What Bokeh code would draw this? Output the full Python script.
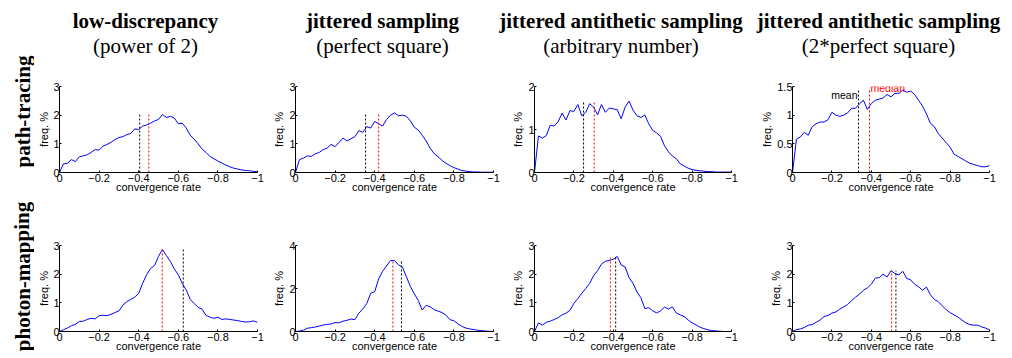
import math
from bokeh.plotting import figure
from bokeh.layouts import row, column
from bokeh.models import Range1d, FixedTicker, CustomJSTickFormatter, Label
from bokeh.core.properties import value
from bokeh.embed import file_html
from bokeh.resources import INLINE

# ---------------- data ----------------
conv_rate = [round(-0.02 * i, 2) for i in range(51)]  # histogram bin positions

col_titles = ["low-discrepancy", "jittered sampling",
              "jittered antithetic sampling", "jittered antithetic sampling"]
col_subtitles = ["(power of 2)", "(perfect square)",
                 "(arbitrary number)", "(2*perfect square)"]
row_labels = ["path-tracing", "photon-mapping"]

pt_low_discrepancy = [
    0.00, 0.30, 0.32, 0.45, 0.38, 0.55, 0.58, 0.62, 0.70, 0.80,
    0.78, 0.92, 0.98, 1.05, 1.15, 1.22, 1.25, 1.32, 1.36, 1.52,
    1.50, 1.62, 1.66, 1.72, 1.80, 1.85, 2.02, 1.92, 1.96, 1.90,
    1.70, 1.72, 1.55, 1.30, 1.17, 1.00, 0.82, 0.70, 0.56, 0.48,
    0.40, 0.33, 0.26, 0.20, 0.15, 0.12, 0.09, 0.07, 0.06, 0.04, 0.02]
pt_jittered = [
    0.00, 0.45, 0.50, 0.58, 0.56, 0.65, 0.70, 0.80, 0.85, 0.98,
    0.90, 1.05, 1.20, 1.10, 1.18, 1.25, 1.46, 1.40, 1.60, 1.55,
    1.78, 1.70, 1.62, 1.85, 2.00, 2.08, 1.98, 2.00, 1.96, 1.80,
    1.58, 1.48, 1.30, 1.10, 0.85, 0.66, 0.55, 0.42, 0.32, 0.24,
    0.17, 0.12, 0.07, 0.05, 0.03, 0.02, 0.02, 0.01, 0.01, 0.01, 0.01]
pt_antithetic_arbitrary = [
    0.00, 0.85, 0.80, 0.86, 1.10, 1.08, 1.18, 1.38, 1.22, 1.44,
    1.42, 1.58, 1.32, 1.40, 1.60, 1.52, 1.34, 1.58, 1.40, 1.50,
    1.48, 1.46, 1.25, 1.52, 1.66, 1.45, 1.32, 1.28, 1.34, 1.13,
    0.98, 0.92, 0.84, 0.62, 0.48, 0.38, 0.32, 0.20, 0.15, 0.10,
    0.07, 0.05, 0.04, 0.03, 0.02, 0.02, 0.01, 0.01, 0.01, 0.01, 0.01]
pt_antithetic_2square = [
    0.00, 0.58, 0.62, 0.70, 0.65, 0.80, 0.85, 0.88, 0.88, 0.92,
    1.05, 1.00, 0.98, 1.00, 1.04, 1.12, 1.12, 1.20, 1.26, 1.10,
    1.20, 1.26, 1.28, 1.30, 1.36, 1.32, 1.38, 1.38, 1.44, 1.40,
    1.42, 1.36, 1.26, 1.16, 1.02, 0.86, 0.80, 0.68, 0.60, 0.52,
    0.44, 0.32, 0.28, 0.24, 0.20, 0.16, 0.14, 0.12, 0.10, 0.10, 0.12]

pm_low_discrepancy = [
    0.00, 0.06, 0.12, 0.20, 0.25, 0.35, 0.36, 0.42, 0.46, 0.44,
    0.55, 0.57, 0.55, 0.60, 0.66, 0.72, 0.92, 1.04, 1.12, 1.20,
    1.33, 1.68, 1.98, 2.20, 2.30, 2.62, 2.86, 2.65, 2.44, 2.18,
    1.98, 1.68, 1.45, 1.12, 0.98, 0.84, 0.78, 0.56, 0.50, 0.46,
    0.50, 0.42, 0.44, 0.42, 0.40, 0.38, 0.35, 0.33, 0.34, 0.37, 0.32]
pm_jittered = [
    0.00, 0.02, 0.06, 0.15, 0.18, 0.21, 0.25, 0.30, 0.33, 0.35,
    0.42, 0.40, 0.48, 0.52, 0.58, 0.55, 0.85, 1.05, 1.30, 1.78,
    1.85, 2.45, 2.80, 3.05, 3.30, 3.30, 3.10, 3.00, 2.55, 2.10,
    1.75, 1.45, 1.00, 1.22, 1.15, 1.02, 0.95, 0.88, 0.76, 0.55,
    0.50, 0.36, 0.24, 0.16, 0.12, 0.09, 0.06, 0.04, 0.02, 0.01, 0.00]
pm_antithetic_arbitrary = [
    0.00, 0.30, 0.22, 0.32, 0.36, 0.42, 0.48, 0.58, 0.64, 0.74,
    0.98, 1.15, 1.33, 1.50, 1.68, 1.95, 2.12, 2.35, 2.45, 2.48,
    2.52, 2.62, 2.32, 2.25, 1.88, 1.68, 1.38, 1.18, 0.80, 0.83,
    0.72, 0.65, 0.72, 0.85, 0.78, 0.86, 0.64, 0.58, 0.52, 0.40,
    0.30, 0.23, 0.15, 0.10, 0.06, 0.03, 0.02, 0.01, 0.00, 0.00, 0.00]
pm_antithetic_2square = [
    0.00, 0.06, 0.09, 0.14, 0.22, 0.24, 0.32, 0.40, 0.52, 0.56,
    0.64, 0.68, 0.78, 0.86, 0.94, 1.08, 1.20, 1.30, 1.44, 1.52,
    1.65, 1.86, 1.88, 2.00, 1.90, 2.12, 2.02, 1.98, 2.10, 1.85,
    1.80, 1.65, 1.56, 1.44, 1.55, 1.28, 1.12, 1.04, 0.90, 0.76,
    0.66, 0.58, 0.50, 0.40, 0.30, 0.24, 0.22, 0.22, 0.16, 0.12, 0.06]

pt_mean = [-0.405, -0.354, -0.249, -0.335]
pt_median = [-0.451, -0.420, -0.303, -0.391]
pm_mean = [-0.625, -0.535, -0.412, -0.525]
pm_median = [-0.519, -0.492, -0.385, -0.503]

pt_yticks = [[0, 1, 2, 3], [0, 1, 2, 3], [0, 1, 2], [0, 0.5, 1, 1.5]]
pm_yticks = [[0, 1, 2, 3], [0, 2, 4], [0, 1, 2, 3], [0, 1, 2, 3]]
x_ticks = [0, -0.2, -0.4, -0.6, -0.8, -1]

x_label = "convergence rate"
y_label = "freq. %"
mean_text = "mean"
median_text = "median"

# ---------------- layout / style ----------------
SANS = "Liberation Sans"
SERIF = "Liberation Serif"
BLUE = "#0000ff"
RED = "#ff0000"

TOTAL_W = 1012
TOTAL_H = 358
LEFT_W = 34
HEADER_H = 68
col_left = [25, 29, 32, 52]
col_frame = [198, 198, 197, 197]
col_right = [9, 9, 9, 23]
col_widths = [l + f + r for l, f, r in zip(col_left, col_frame, col_right)]
col_ylabel_standoff = [0, 1, 1, 1]
row_heights = [132, 158]
row_top = [18, 45]
row_bottom = [28, 27]


def make_panel(ys, mean, median, yticks, ci, ri, annotate=False):
    p = figure(width=col_widths[ci], height=row_heights[ri],
               x_range=Range1d(0, -1), y_range=Range1d(0, yticks[-1]),
               toolbar_location=None, output_backend="svg",
               min_border_left=col_left[ci], min_border_right=col_right[ci],
               min_border_top=row_top[ri], min_border_bottom=row_bottom[ri],
               x_axis_label=x_label, y_axis_label=y_label)
    p.grid.visible = False
    p.outline_line_color = None
    p.background_fill_color = "white"
    p.border_fill_color = "white"
    p.line(conv_rate, ys, line_color=BLUE, line_width=1)
    peak = max(ys)
    p.segment(x0=[mean], y0=[0], x1=[mean], y1=[peak],
              line_color="black", line_dash="2 2", line_width=1)
    p.segment(x0=[median], y0=[0], x1=[median], y1=[peak],
              line_color=RED, line_dash="2 2", line_width=1)
    for ax in (p.xaxis[0], p.yaxis[0]):
        ax.axis_line_color = "black"
        ax.axis_line_width = 1
        ax.major_tick_in = 2
        ax.major_tick_out = 0
        ax.major_tick_line_color = "black"
        ax.minor_tick_line_color = None
        ax.minor_tick_out = 0
        ax.minor_tick_in = 0
        ax.major_label_text_font = SANS
        ax.major_label_text_font_size = "11px"
        ax.major_label_text_color = "black"
        ax.axis_label_text_font = SANS
        ax.axis_label_text_font_size = "11px"
        ax.axis_label_text_font_style = "normal"
        ax.axis_label_text_color = "black"
    xa = p.xaxis[0]
    xa.ticker = FixedTicker(ticks=x_ticks)
    xa.formatter = CustomJSTickFormatter(
        code="return tick == 0 ? '0' : '\u2212' + Math.abs(tick).toString();")
    xa.major_label_standoff = 1
    xa.axis_label_standoff = -4
    ya = p.yaxis[0]
    ya.ticker = FixedTicker(ticks=yticks)
    ya.formatter = CustomJSTickFormatter(code="return tick.toString();")
    ya.major_label_standoff = 0
    ya.axis_label_standoff = col_ylabel_standoff[ci]
    if annotate:
        p.add_layout(Label(x=mean, y=1.36, text=mean_text, text_align="right",
                           text_baseline="alphabetic", x_offset=-1,
                           text_font=SANS, text_font_size="10.5px",
                           text_color="black"))
        p.add_layout(Label(x=median, y=1.47, text=median_text, text_align="left",
                           text_baseline="alphabetic", x_offset=1,
                           text_font=SANS, text_font_size="10.5px",
                           text_color=RED))
    return p


pt_series = [pt_low_discrepancy, pt_jittered, pt_antithetic_arbitrary, pt_antithetic_2square]
pm_series = [pm_low_discrepancy, pm_jittered, pm_antithetic_arbitrary, pm_antithetic_2square]

row1 = [make_panel(pt_series[i], pt_mean[i], pt_median[i], pt_yticks[i], i, 0,
                   annotate=(i == 3)) for i in range(4)]
row2 = [make_panel(pm_series[i], pm_mean[i], pm_median[i], pm_yticks[i], i, 1)
        for i in range(4)]

# header with column titles (x: pixels from the strip's right edge, y: pixels from top)
header_w = sum(col_widths)
header = figure(width=header_w, height=HEADER_H,
                x_range=Range1d(0, header_w), y_range=Range1d(HEADER_H, 0),
                toolbar_location=None, output_backend="svg",
                x_axis_location=None, y_axis_location=None, min_border=0)
header.grid.visible = False
header.outline_line_color = None
title_cx = [111, 348, 586.5, 844]
header.text(x=title_cx, y=[20] * 4, text=col_titles,
            text_font=value(SERIF), text_font_style="bold", text_font_size="21px",
            text_align="center", text_baseline="alphabetic", text_color="black")
header.text(x=title_cx, y=[45] * 4, text=col_subtitles,
            text_font=value(SERIF), text_font_style="normal", text_font_size="21px",
            text_align="center", text_baseline="alphabetic", text_color="black")

# left strip with row labels (y measured from bottom)
left = figure(width=LEFT_W, height=TOTAL_H,
              x_range=Range1d(0, LEFT_W), y_range=Range1d(0, TOTAL_H),
              toolbar_location=None, output_backend="svg",
              x_axis_location=None, y_axis_location=None, min_border=0)
left.grid.visible = False
left.outline_line_color = None
left.text(x=[22, 22], y=[TOTAL_H - 111, TOTAL_H - 276], text=row_labels,
          angle=[math.pi / 2] * 2,
          text_font=value(SERIF), text_font_style="bold", text_font_size="21px",
          text_align="center", text_baseline="alphabetic", text_color="black")

layout = row(left, column(header, row(*row1), row(*row2)))

open("out.html", "w").write(file_html(layout, INLINE))
